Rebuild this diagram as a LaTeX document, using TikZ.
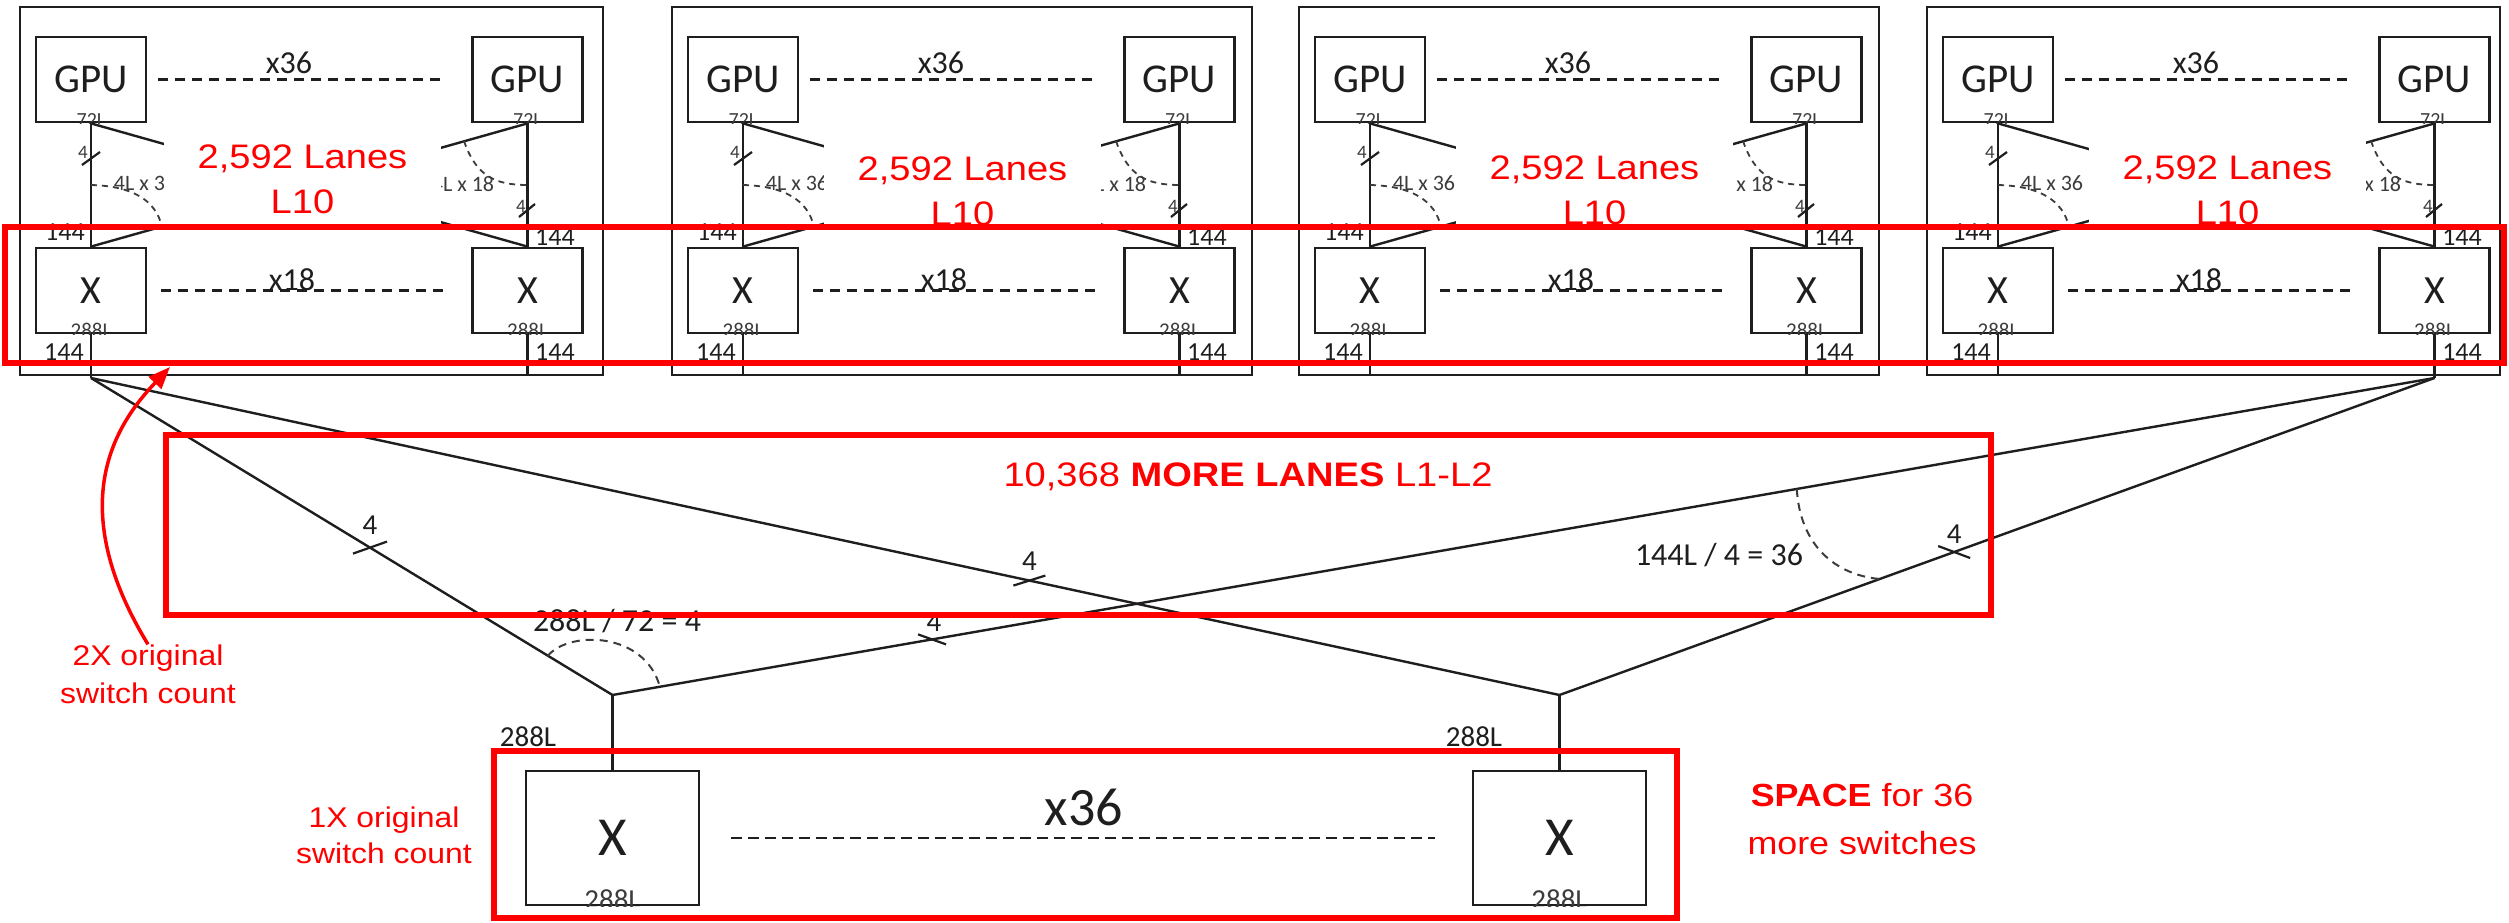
\documentclass[tikz,border=0pt]{standalone}
\usepackage{fontspec}
\setmainfont{Carlito}
\newfontfamily\redf[FakeStretch=1.12]{Liberation Sans}
\usetikzlibrary{calc,arrows.meta}
\definecolor{rd}{HTML}{FF0000}
\definecolor{ink}{HTML}{1E1E1E}
\definecolor{gry}{HTML}{3C3C3C}
\newcommand{\myfs}[1]{\fontsize{#1}{#1}\selectfont}
\newcommand{\sublbl}[3]{%
  \begin{scope}
    \clip (#1.south west) rectangle (#1.north east);
    \node[lbl, anchor=base, font=\myfs{#3}, text=gry] at ($(#1.south)+(0,3.5)$) {#2};
  \end{scope}}
\tikzset{
  podbox/.style={draw=ink, line width=2.7pt},
  unitbox/.style={draw=ink, line width=2.8pt, minimum width=110pt, minimum height=85pt, inner sep=0pt, text=ink},
  bigbox/.style={draw=ink, line width=2.8pt, minimum width=173pt, minimum height=134pt, inner sep=0pt, text=ink},
  wire/.style={draw=ink, line width=2.4pt},
  dotline/.style={draw=ink, line width=2.4pt, dash pattern=on 10pt off 7pt},
  finedots/.style={draw=ink, line width=2.8pt, dash pattern=on 11pt off 6pt},
  arcline/.style={draw=gry, line width=1.8pt, dash pattern=on 6pt off 5pt},
  botarc/.style={draw=gry, line width=2pt, dash pattern=on 8pt off 6pt},
  tick/.style={draw=ink, line width=2.2pt},
  redframe/.style={draw=rd, line width=6pt},
  lbl/.style={text=ink, inner sep=0pt},
  redtxt/.style={text=rd, inner sep=0pt, align=center},
  redarrow/.style={draw=rd, line width=3.5pt, -{Triangle[length=22pt,width=17pt]}},
}
\begin{document}
\begin{tikzpicture}[x=1pt,y=-1pt]
\useasboundingbox (0,0) rectangle (2509,923);
\fill[white] (0,0) rectangle (2509,923);

% ---------- four pods ----------
\foreach \px/\pr/\wl/\wr/\ty [count=\i] in {20/603/144/421/179.5, 672/1252/152/429/191, 1299/1879/157/434/190, 1927/2500/162/439/190}{
  \draw[podbox] (\px,7) rectangle (\pr,375);
  \node[unitbox, font=\myfs{41}] (gL\i) at (\px+71,79.5) {GPU};
  \node[unitbox, font=\myfs{41}] (gR\i) at (\px+507.5,79.5) {GPU};
  \node[unitbox, font=\myfs{40}] (xL\i) at (\px+71,290.5) {X};
  \node[unitbox, font=\myfs{40}] (xR\i) at (\px+507.5,290.5) {X};
  \sublbl{gL\i}{72L}{20}
  \sublbl{gR\i}{72L}{20}
  \sublbl{xL\i}{288L}{21}
  \sublbl{xR\i}{288L}{21}
  \draw[wire] (gL\i) -- (xL\i);
  \draw[wire] (gR\i) -- (xR\i);
  \draw[wire] (gL\i.south) -- (xR\i.north);
  \draw[wire] (xL\i.north) -- (gR\i.south);
  \draw[dotline, shorten <=11pt, shorten >=30pt] (gL\i) -- (gR\i);
  \draw[dotline, shorten <=14pt, shorten >=28pt] (xL\i) -- (xR\i);
  \node[lbl, font=\myfs{32}] at (\px+269,63) {x36};
  \node[lbl, font=\myfs{32}] at (\px+272,280) {x18};
  \coordinate (bl\i) at (\px+71,375);
  \coordinate (br\i) at (\px+507.5,375);
  \draw[wire] (xL\i) -- (bl\i);
  \draw[wire] (xR\i) -- (br\i);
  \node[lbl, font=\myfs{26}] at (\px+45,232) {144};
  \node[lbl, font=\myfs{26}] at (\px+535,237) {144};
  \node[lbl, font=\myfs{26}] at (\px+44,352) {144};
  \node[lbl, font=\myfs{26}] at (\px+535,352) {144};
  % ticks on vertical links
  \draw[tick] (\px+62,165) -- (\px+80,152);
  \node[lbl, font=\myfs{19}, text=gry] at (\px+63,152) {4};
  \draw[tick] (\px+499,217) -- (\px+515,204);
  \node[lbl, font=\myfs{19}, text=gry] at (\px+501,206) {4};
  % angle arcs
  \draw[arcline] (\px+71,185) .. controls (\px+112,186) and (\px+136,200) .. (\px+142,227);
  \node[lbl, font=\myfs{22}, text=gry] at (\px+125,183) {4L x 36};
  \draw[arcline] (\px+444,141) .. controls (\px+456,176) and (\px+475,185) .. (\px+507.5,185);
  \node[lbl, font=\myfs{22}, text=gry] at (\px+443,184) {4L x 18};
  % label plate
  \begin{scope}
    \clip (\px+\wl,126) rectangle (\px+\wr,226);
    \fill[white] (\px+\wl,126) rectangle (\px+\wr,226);
    \node[redtxt, font=\redf\fontsize{34}{45}\selectfont] (lane\i) at ({\px+(\wl+\wr)/2},\ty) {2,592 Lanes\\L10};
  \end{scope}
}

% ---------- spine switches ----------
\node[bigbox, font=\myfs{55}] (bL) at (612.5,838) {X};
\node[bigbox, font=\myfs{55}] (bR) at (1559.5,838) {X};
\sublbl{bL}{288L}{29}
\sublbl{bR}{288L}{29}
\draw[finedots, shorten <=31pt, shorten >=37pt] (bL) -- (bR);
\node[lbl, font=\myfs{54}] at (1084,807) {x36};

\coordinate (f1) at (91,378);
\coordinate (f4) at (2434.5,378);
\coordinate (jL) at (612.5,695);
\coordinate (jR) at (1559.5,695);
\draw[wire] (bl1) -- (f1);
\draw[wire] (br4) -- (f4);
\draw[wire] (f1) -- (jL);
\draw[wire] (f1) -- (jR);
\draw[wire] (f4) -- (jL);
\draw[wire] (f4) -- (jR);
\draw[wire] (jL) -- (bL);
\draw[wire] (jR) -- (bR);

\path (f1) -- (jL) coordinate[pos=0.535] (t1);
\path (f1) -- (jR) coordinate[pos=0.639] (t2);
\path (f4) -- (jL) coordinate[pos=0.8246] (t3);
\path (f4) -- (jR) coordinate[pos=0.549] (t4);
\draw[tick] ($(t1)+(-17,6)$) -- ($(t1)+(17,-6)$);
\draw[tick] ($(t2)+(-16,5)$) -- ($(t2)+(16,-5)$);
\draw[tick] ($(t3)+(-14,-5)$) -- ($(t3)+(14,5)$);
\draw[tick] ($(t4)+(-16,-6)$) -- ($(t4)+(16,6)$);
\node[lbl, font=\myfs{29}] at ($(t1)+(0,-22)$) {4};
\node[lbl, font=\myfs{29}] at ($(t2)+(0,-19)$) {4};
\node[lbl, font=\myfs{29}] at ($(t3)+(2,-17)$) {4};
\node[lbl, font=\myfs{29}] at ($(t4)+(0,-18)$) {4};

\draw[botarc] ($(jL)!0.124!(f1)$) .. controls (570,630) and (645,632) .. ($(jL)!0.026!(f4)$);
\draw[botarc] ($(f4)!0.35!(jL)$) .. controls (1800,545) and (1835,575) .. ($(f4)!0.634!(jR)$);
\node[lbl, font=\myfs{32}] at (617,621) {288L / 72 = 4};
\node[lbl, font=\myfs{32}] at (1719,555) {144L / 4 = 36};
\node[lbl, font=\myfs{29}] at (528,737) {288L};
\node[lbl, font=\myfs{29}] at (1474,737) {288L};

% ---------- red annotations ----------
\draw[redframe] (5,227) rectangle (2504,363);
\draw[redframe, line width=6.5pt] (166,435) rectangle (1991,615);
\draw[redframe] (494,750.5) rectangle (1677,918);

\node[redtxt, font=\redf\fontsize{34}{40}\selectfont] (more) at (1248,477) {10,368 \textbf{MORE LANES} L1-L2};
\node[redtxt, font=\redf\fontsize{28.5}{38}\selectfont] (two) at (148,674) {2X original\\switch count};
\node[redtxt, font=\redf\fontsize{28.5}{36}\selectfont] (one) at (384,835) {1X original\\switch count};
\node[redtxt, font=\redf\fontsize{32}{48}\selectfont] (space) at (1862,819) {\textbf{SPACE} for 36\\more switches};
\coordinate (tip) at (170,367);
\draw[redarrow] (two.north) .. controls (60,500) and (120,420) .. (tip);
\end{tikzpicture}
\end{document}
